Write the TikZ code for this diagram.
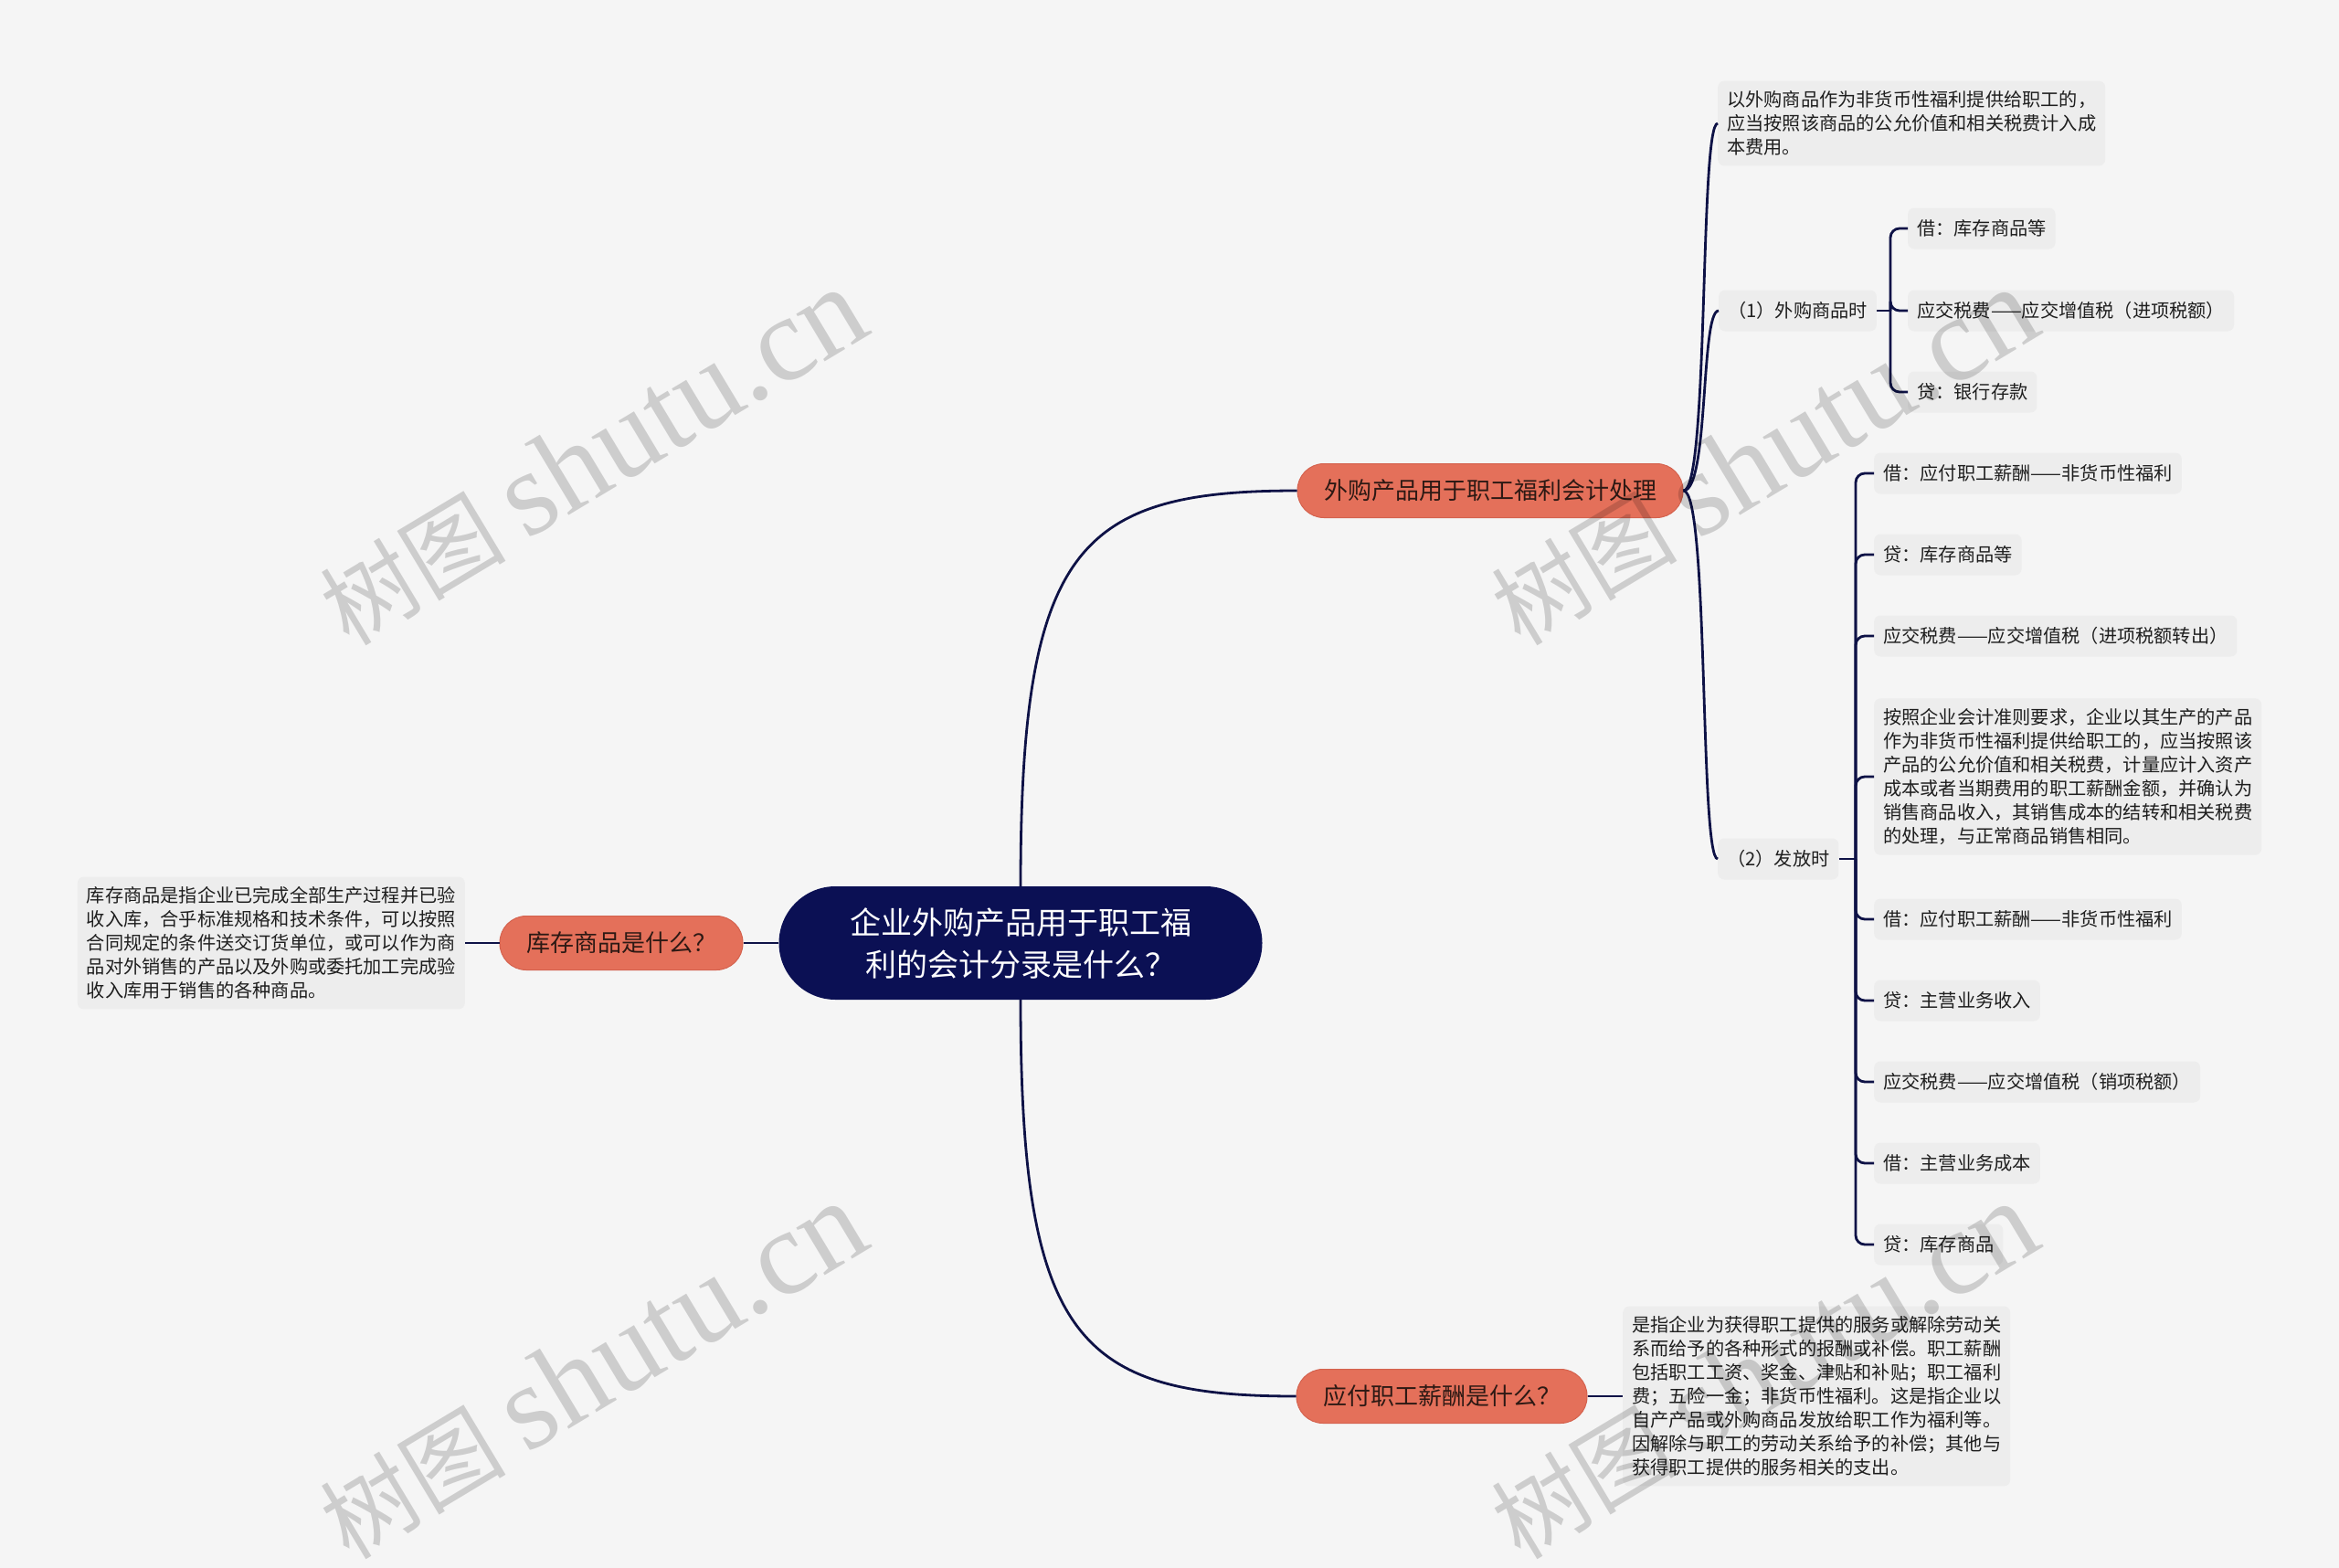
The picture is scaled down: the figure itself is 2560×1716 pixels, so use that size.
\documentclass[tikz,border=0pt]{standalone}
\usepackage{fontspec}
\setmainfont{Noto Sans CJK SC}
\newfontfamily\wmserif{Liberation Serif}
\usetikzlibrary{calc}
\definecolor{bg}{RGB}{245,245,245}
\definecolor{navy}{RGB}{11,16,84}
\definecolor{linec}{RGB}{14,18,70}
\definecolor{orng}{RGB}{228,112,90}
\definecolor{orngd}{RGB}{212,98,78}
\definecolor{gboxc}{RGB}{237,237,237}
\definecolor{txt}{RGB}{30,30,30}
\definecolor{otxt}{RGB}{45,25,20}
\begin{document}
\begin{tikzpicture}[x=1pt,y=-1pt,
 conn/.style={draw=linec,line width=2.8pt},
 gbox/.style={fill=gboxc,rounded corners=7pt,inner xsep=10pt,inner ysep=11pt,minimum height=45pt,font=\fontsize{20.2}{26}\selectfont,text=txt,align=left},
 obox/.style={fill=orng,draw=orngd,line width=1pt,rounded corners=29pt,minimum height=59pt,inner xsep=29pt,font=\fontsize{26}{30}\selectfont,text=otxt},
 cbox/.style={fill=navy,rounded corners=62pt,minimum width=529pt,minimum height=124pt,font=\fontsize{34}{46}\selectfont,text=white,align=center},
 wm/.style={text=black,opacity=0.16,rotate=31,font=\fontsize{102}{110}\selectfont}
]
\fill[bg] (0,0) rectangle (2560,1716);
\useasboundingbox (0,0) rectangle (2560,1716);

% main nodes
\node[cbox] (c) at (1117,1032) {企业外购产品用于职工福\\利的会计分录是什么？};
\node[obox] (a) at (1631,537) {外购产品用于职工福利会计处理};
\node[obox] (b) at (680,1032) {库存商品是什么？};
\node[obox] (d) at (1578,1528) {应付职工薪酬是什么？};

\node[gbox,anchor=east] (bt) at (509,1032) {库存商品是指企业已完成全部生产过程并已验\\收入库，合乎标准规格和技术条件，可以按照\\合同规定的条件送交订货单位，或可以作为商\\品对外销售的产品以及外购或委托加工完成验\\收入库用于销售的各种商品。};
\node[gbox,anchor=west] (dt) at (1776,1528) {是指企业为获得职工提供的服务或解除劳动关\\系而给予的各种形式的报酬或补偿。职工薪酬\\包括职工工资、奖金、津贴和补贴；职工福利\\费；五险一金；非货币性福利。这是指企业以\\自产产品或外购商品发放给职工作为福利等。\\因解除与职工的劳动关系给予的补偿；其他与\\获得职工提供的服务相关的支出。};

% children of a
\node[gbox,anchor=west] (a1) at (1880,135) {以外购商品作为非货币性福利提供给职工的，\\应当按照该商品的公允价值和相关税费计入成\\本费用。};
\node[gbox,anchor=west] (a2) at (1881,340) {（1）外购商品时};
\node[gbox,anchor=west] (a3) at (1880,940) {（2）发放时};

% children of (1)
\node[gbox,anchor=west] (p1) at (2088,250) {借：库存商品等};
\node[gbox,anchor=west] (p2) at (2088,340) {应交税费——应交增值税（进项税额）};
\node[gbox,anchor=west] (p3) at (2088,429) {贷：银行存款};

% children of (2)
\node[gbox,anchor=west] (q1) at (2051,518) {借：应付职工薪酬——非货币性福利};
\node[gbox,anchor=west] (q2) at (2051,607) {贷：库存商品等};
\node[gbox,anchor=west] (q3) at (2051,696) {应交税费——应交增值税（进项税额转出）};
\node[gbox,anchor=west] (q4) at (2051,850) {按照企业会计准则要求，企业以其生产的产品\\作为非货币性福利提供给职工的，应当按照该\\产品的公允价值和相关税费，计量应计入资产\\成本或者当期费用的职工薪酬金额，并确认为\\销售商品收入，其销售成本的结转和相关税费\\的处理，与正常商品销售相同。};
\node[gbox,anchor=west] (q5) at (2051,1006) {借：应付职工薪酬——非货币性福利};
\node[gbox,anchor=west] (q6) at (2051,1095) {贷：主营业务收入};
\node[gbox,anchor=west] (q7) at (2051,1184) {应交税费——应交增值税（销项税额）};
\node[gbox,anchor=west] (q8) at (2051,1273) {借：主营业务成本};
\node[gbox,anchor=west] (q9) at (2051,1362) {贷：库存商品};

% connectors
\draw[conn] (c.north) .. controls ($(c.north)+(0,-370)$) and ($(a.west)+(-240,0)$) .. (a.west);
\draw[conn] (c.south) .. controls ($(c.south)+(0,370)$) and ($(d.west)+(-240,0)$) .. (d.west);
\draw[conn] (c.west) -- (b.east);
\draw[conn] (b.west) -- (bt.east);
\draw[conn] (d.east) -- (dt.west);

\foreach \k in {a1,a2,a3}{
  \draw[conn] (a.east) .. controls ($(a.east)+(28,0)$) and ($(\k.west)+(-20,0)$) .. (\k.west);
}
\coordinate (j1) at (2069,340);
\coordinate (j2) at (2031,940);
\draw[conn] (a2.east) -- (j1);
\draw[conn] (a3.east) -- (j2);
\foreach \k in {p1,p2,p3}{
  \draw[conn,rounded corners=10pt] (j1) |- (\k.west);
}
\foreach \k in {q1,q2,q3,q4,q5,q6,q7,q8,q9}{
  \draw[conn,rounded corners=10pt] (j2) |- (\k.west);
}

% watermarks
\node[wm] (w1) at (648,500) {树图 {\wmserif\fontsize{132}{132}\selectfont shutu.cn}};
\node[wm] (w2) at (1930,500) {树图 {\wmserif\fontsize{132}{132}\selectfont shutu.cn}};
\node[wm] (w3) at (648,1500) {树图 {\wmserif\fontsize{132}{132}\selectfont shutu.cn}};
\node[wm] (w4) at (1930,1500) {树图 {\wmserif\fontsize{132}{132}\selectfont shutu.cn}};
\end{tikzpicture}
\end{document}
